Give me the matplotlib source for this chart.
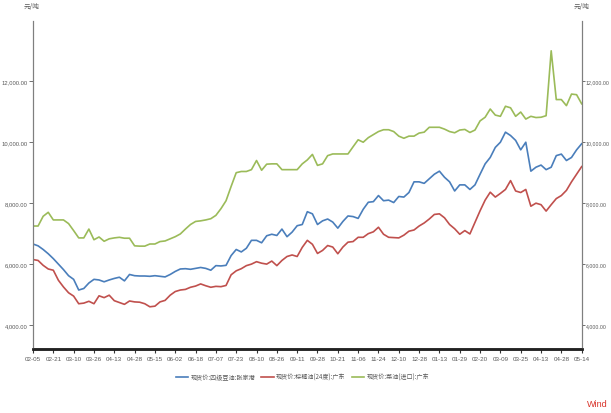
import matplotlib.pyplot as plt
from matplotlib.ticker import FuncFormatter

plt.rcParams['font.family'] = ['Noto Sans CJK SC', 'DejaVu Sans']

# 日期刻度（交易日序列，每个刻度间隔4个采样点）
date_labels = ['02-05', '02-21', '03-10', '03-26', '04-13', '04-28', '05-15',
               '06-02', '06-18', '07-07', '07-23', '08-10', '08-26', '09-11',
               '09-28', '10-21', '11-06', '11-24', '12-10', '12-28', '01-13',
               '01-29', '02-20', '03-09', '03-25', '04-13', '04-28', '05-14']

# 现货价:四级豆油:张家港
soy = [6660, 6600, 6480, 6340, 6180, 6000, 5820, 5620, 5500, 5150,
       5200, 5380, 5500, 5480, 5420, 5480, 5530, 5570, 5450, 5660,
       5620, 5610, 5610, 5600, 5620, 5600, 5580, 5660, 5760, 5840,
       5850, 5830, 5860, 5890, 5860, 5800, 5950, 5940, 5960, 6280,
       6480, 6400, 6520, 6780, 6780, 6700, 6930, 6980, 6940, 7150,
       6900, 7050, 7260, 7300, 7720, 7650, 7300, 7420, 7480, 7380,
       7180, 7400, 7580, 7560, 7500, 7800, 8030, 8050, 8250, 8080,
       8100, 8020, 8220, 8200, 8350, 8700, 8700, 8650, 8800, 8950,
       9050, 8850, 8700, 8400, 8600, 8600, 8450, 8600, 8950, 9290,
       9500, 9830, 10000, 10330, 10220, 10060, 9750, 10000, 9050, 9180,
       9250, 9100, 9180, 9560, 9610, 9400, 9500, 9750, 9950]

# 现货价:棕榈油(24度):广东
palm = [6150, 6120, 5960, 5840, 5800, 5470, 5250, 5060, 4950, 4700,
        4720, 4780, 4700, 4960, 4900, 4980, 4800, 4740, 4680, 4790,
        4760, 4750, 4700, 4600, 4620, 4760, 4810, 4980, 5100, 5150,
        5170, 5240, 5280, 5350, 5290, 5240, 5270, 5260, 5300, 5650,
        5780, 5850, 5950, 6000, 6080, 6030, 6000, 6100, 5950, 6120,
        6250, 6300, 6250, 6550, 6780, 6650, 6350, 6450, 6610, 6560,
        6340, 6560, 6720, 6740, 6880, 6880, 7000, 7060, 7210, 6980,
        6880, 6870, 6860, 6950, 7080, 7120, 7250, 7350, 7480, 7630,
        7650, 7520, 7300, 7160, 6980, 7100, 6990, 7370, 7750, 8100,
        8360, 8200, 8320, 8450, 8740, 8400, 8350, 8450, 7900, 8000,
        7950, 7740, 7950, 8150, 8250, 8420, 8700, 8950, 9200]

# 现货价:菜油(进口):广东
rapeseed = [7250, 7250, 7570, 7700, 7450, 7450, 7450, 7330, 7100, 6860,
            6860, 7150, 6800, 6890, 6750, 6830, 6860, 6880, 6850, 6850,
            6600, 6590, 6590, 6660, 6660, 6740, 6760, 6830, 6900, 6990,
            7150, 7300, 7400, 7420, 7450, 7490, 7600, 7820, 8080, 8550,
            9000, 9040, 9040, 9100, 9400, 9080, 9280, 9290, 9290, 9100,
            9100, 9100, 9100, 9290, 9420, 9600, 9240, 9290, 9560, 9615,
            9615, 9615, 9615, 9850, 10080, 10000, 10150, 10250, 10350, 10410,
            10410, 10350, 10200, 10130, 10200, 10200, 10300, 10330, 10490, 10490,
            10490, 10430, 10350, 10310, 10400, 10420, 10320, 10400, 10700, 10820,
            11090, 10890, 10850, 11180, 11130, 10850, 10990, 10760, 10850, 10810,
            10820, 10870, 13000, 11400, 11400, 11200, 11580, 11560, 11260]

names = ['现货价:四级豆油:张家港', '现货价:棕榈油(24度):广东', '现货价:菜油(进口):广东']
colors = ['#4a7ebb', '#c0504d', '#9bbb59']

fig = plt.figure(figsize=(6.11, 4.14), dpi=100)
ax = fig.add_axes([0.054, 0.155, 0.898, 0.792])
x = list(range(len(soy)))
for ys, name, c in zip([soy, palm, rapeseed], names, colors):
    ax.plot(x, ys, color=c, lw=1.2, label=name)

ax.set_xlim(0, len(soy) - 1)
ax.set_ylim(3220, 13980)
yt = [4000, 6000, 8000, 10000, 12000]
fmt = FuncFormatter(lambda v, p: f'{v:,.2f}')
ax.set_yticks(yt)
ax.yaxis.set_major_formatter(fmt)
ax.set_xticks(range(0, len(soy), 4))
ax.set_xticklabels(date_labels)

ax2 = ax.twinx()
ax2.set_ylim(ax.get_ylim())
ax2.set_yticks(yt)
ax2.yaxis.set_major_formatter(fmt)

gray = '#7f7f7f'
latin = 'Liberation Sans'
for a in (ax, ax2):
    a.spines['top'].set_visible(False)
    a.spines['left'].set_color(gray)
    a.spines['right'].set_color(gray)
    a.spines['bottom'].set_color('#222222')
    a.spines['bottom'].set_linewidth(1.8)
    a.tick_params(axis='y', labelsize=4.2, labelcolor='#595959', color='#595959',
                  length=3, width=0.6, pad=1.0)
ax2.tick_params(axis='y', labelsize=3.8, length=2.5, pad=0.4)
ax.tick_params(axis='x', labelsize=4.5, labelcolor='#595959', color='#333333',
               length=3, width=0.8, pad=2)
for lab in ax.get_xticklabels() + ax.get_yticklabels() + ax2.get_yticklabels():
    lab.set_family(latin)

fig.text(0.052, 0.982, '元/吨', fontsize=4.8, color='#595959', ha='center', va='center')
fig.text(0.952, 0.982, '元/吨', fontsize=4.8, color='#595959', ha='center', va='center')

fig.legend(loc='center', bbox_to_anchor=(0.495, 0.087), ncol=3, frameon=False,
           fontsize=4.4, handlelength=2.0, handletextpad=0.4, columnspacing=1.0,
           labelcolor='#595959')

fig.text(0.995, 0.022, 'Wind', fontsize=6.5, color='#d9342b', ha='right', va='center',
         family=latin)

fig.savefig('out.png', dpi=100)
